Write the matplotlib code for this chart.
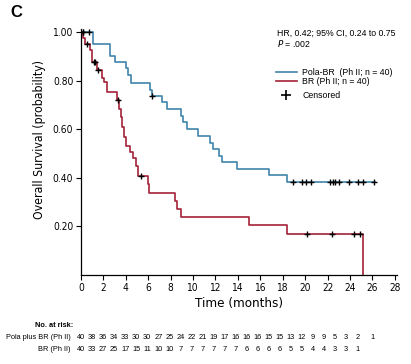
import matplotlib
matplotlib.use("Agg")
import matplotlib.pyplot as plt
import matplotlib.transforms as mtransforms

# Kaplan-Meier steps (time in months, survival)
pola_t = [0, 1.1, 2.6, 3.0, 4.0, 4.2, 4.45, 6.15, 6.3, 7.2, 7.65, 8.9, 9.07, 9.43,
          10.46, 11.5, 11.75, 12.34, 12.55, 13.9, 16.75, 18.35, 26.2]
pola_s = [1.0, 0.95, 0.90, 0.875, 0.85, 0.825, 0.79, 0.76, 0.735, 0.71, 0.685, 0.655,
          0.63, 0.60, 0.573, 0.545, 0.518, 0.49, 0.465, 0.437, 0.41, 0.383, 0.383]
pola_cens_t = [0.15, 0.74, 6.36, 18.93, 19.68, 20.07, 20.49, 22.2, 22.45, 22.69,
               23.05, 23.94, 24.68, 25.13, 26.14]

br_t = [0, 0.2, 0.4, 0.8, 1.0, 1.4, 1.9, 2.05, 2.35, 3.2, 3.4, 3.55, 3.65, 3.83, 4.0,
        4.37, 4.67, 4.88, 5.11, 5.95, 6.07, 8.39, 8.54, 8.89, 15.0, 18.35, 25.13]
br_s = [1.0, 0.975, 0.95, 0.925, 0.875, 0.845, 0.81, 0.795, 0.755, 0.72, 0.683, 0.65,
        0.611, 0.57, 0.532, 0.508, 0.481, 0.45, 0.409, 0.375, 0.337, 0.306, 0.272,
        0.237, 0.205, 0.17, 0.0]
br_cens_t = [0.15, 0.5, 1.16, 1.28, 1.49, 3.3, 5.38, 20.19, 22.42, 24.38, 24.89]

risk_months = list(range(26)) + [26]
pola_risk = [40, 38, 36, 34, 33, 30, 30, 27, 25, 24, 22, 21, 19, 17, 16, 16, 16, 15,
             15, 13, 12, 9, 9, 5, 3, 2, 1]
br_risk = [40, 33, 27, 25, 17, 15, 11, 10, 10, 7, 7, 7, 7, 7, 7, 6, 6, 6, 6, 5, 5, 4,
           4, 3, 3, 1]

x_ticks = list(range(0, 29, 2))
y_ticks = [0.2, 0.4, 0.6, 0.8, 1.0]

BLUE = "#3f84aa"
RED = "#a3223a"


def surv_at(ts, ss, t):
    # value of the step function at time t
    val = ss[0]
    for ti, si in zip(ts, ss):
        if ti <= t:
            val = si
    return val


plt.rcParams["font.family"] = ["Liberation Sans", "DejaVu Sans"]
cond = dict(family="DejaVu Sans", stretch="condensed")

fig = plt.figure(figsize=(4.11, 3.64), dpi=100)
ax = fig.add_axes([0.197, 0.2445, 0.769, 0.6755])

ax.step(pola_t, pola_s, where="post", color=BLUE, lw=1.2)
ax.step(br_t, br_s, where="post", color=RED, lw=1.2)

ax.plot(pola_cens_t, [surv_at(pola_t, pola_s, t) for t in pola_cens_t], "k+",
        ms=5, mew=1.0)
ax.plot(br_cens_t, [surv_at(br_t, br_s, t) for t in br_cens_t], "k+",
        ms=5, mew=1.0)

ax.set_xlim(0, 28.2)
ax.set_ylim(0, 1.012)
ax.set_xticks(x_ticks)
ax.set_yticks(y_ticks)
ax.set_yticklabels([f"{v:.2f}" for v in y_ticks])
ax.tick_params(direction="out", length=3.5, width=0.8, pad=2)
for lab in ax.get_xticklabels() + ax.get_yticklabels():
    lab.set_fontfamily("DejaVu Sans")
    lab.set_fontstretch("condensed")
    lab.set_fontsize(7.3)
ax.spines["top"].set_visible(False)
ax.spines["right"].set_visible(False)
ax.spines["left"].set_linewidth(0.9)
ax.spines["bottom"].set_linewidth(0.9)

ax.set_xlabel("Time (months)", fontsize=9.6, labelpad=3, **cond)
ax.set_ylabel("Overall Survival (probability)", fontsize=8.8, **cond)
ax.yaxis.set_label_coords(-0.112, 0.55)

# panel letter
fig.text(0.025, 0.965, "C", fontsize=12, fontweight="bold", va="center")

# HR annotation
fig.text(0.673, 0.909, "HR, 0.42; 95% CI, 0.24 to 0.75", fontsize=6.3, va="center")
fig.text(0.673, 0.881, r"$\it{P}$ = .002", fontsize=6.3, va="center")

# legend, drawn by hand
lx0, lx1, tx = 0.672, 0.722, 0.735
for yy, col, txt in [(0.802, BLUE, "Pola-BR  (Ph II; n = 40)"),
                     (0.777, RED, "BR (Ph II; n = 40)")]:
    fig.add_artist(plt.Line2D([lx0, lx1], [yy, yy], color=col, lw=1.2,
                              transform=fig.transFigure))
    fig.text(tx, yy, txt, fontsize=6.3, va="center")
fig.add_artist(plt.Line2D([(lx0 + lx1) / 2], [0.739], marker="+", color="k", ms=7,
                          mew=1.2, transform=fig.transFigure))
fig.text(tx, 0.739, "Censored", fontsize=6.3, va="center")

# number at risk table
trans = mtransforms.blended_transform_factory(ax.transData, fig.transFigure)
fig.text(0.178, 0.107, "No. at risk:", fontsize=5.3, fontweight="bold",
         ha="right", va="center")
fig.text(0.172, 0.074, "Pola plus BR (Ph II)", fontsize=5.3, ha="right", va="center")
fig.text(0.172, 0.041, "BR (Ph II)", fontsize=5.3, ha="right", va="center")
for m, n in zip(risk_months, pola_risk):
    pos = m * 0.986 if m < 26 else m
    ax.text(pos, 0.074, str(n), transform=trans, fontsize=5.3, ha="center",
            va="center", clip_on=False)
for m, n in zip(risk_months, br_risk):
    ax.text(m * 0.986, 0.041, str(n), transform=trans, fontsize=5.3, ha="center",
            va="center", clip_on=False)

fig.savefig("out.png", dpi=100)
